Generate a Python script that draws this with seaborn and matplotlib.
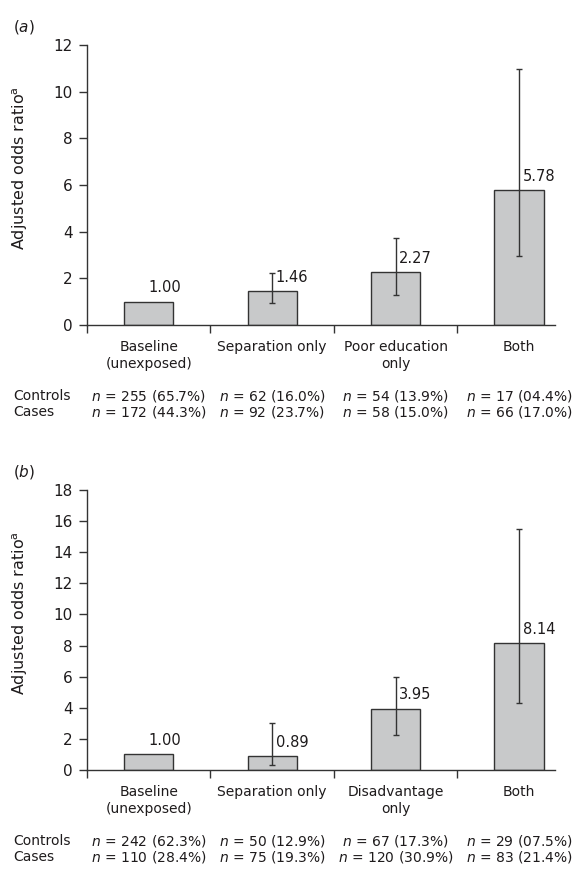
import matplotlib
matplotlib.use("Agg")
import matplotlib.pyplot as plt
import matplotlib.transforms as mtransforms
import seaborn as sns
import pandas as pd

# ------------------------
# Data
# ------------------------

cats_a = ["Baseline\n(unexposed)", "Separation only", "Poor education\nonly", "Both"]
or_a = [1.00, 1.46, 2.27, 5.78]
lo_a = [1.00, 0.95, 1.30, 2.97]
hi_a = [1.00, 2.24, 3.74, 10.97]
ctrl_n_a = [255, 62, 54, 17]
ctrl_pct_a = ["65.7", "16.0", "13.9", "04.4"]
case_n_a = [172, 92, 58, 66]
case_pct_a = ["44.3", "23.7", "15.0", "17.0"]

cats_b = ["Baseline\n(unexposed)", "Separation only", "Disadvantage\nonly", "Both"]
or_b = [1.00, 0.89, 3.95, 8.14]
lo_b = [1.00, 0.32, 2.25, 4.30]
hi_b = [1.00, 3.02, 5.98, 15.50]
ctrl_n_b = [242, 50, 67, 29]
ctrl_pct_b = ["62.3", "12.9", "17.3", "07.5"]
case_n_b = [110, 75, 120, 83]
case_pct_b = ["28.4", "19.3", "30.9", "21.4"]

TXT = "#1e1b1c"
LINE = "#333333"
FILL = "#c8c9ca"

sns.set_style("ticks")
plt.rcParams['font.family'] = ['DejaVu Sans']
plt.rcParams['mathtext.fontset'] = 'dejavusans'
plt.rcParams['text.color'] = TXT


def draw_panel(ax, letter, cats, vals, lo, hi, ymax, ctrl_n, ctrl_pct, case_n, case_pct):
    df = pd.DataFrame({'cat': cats, 'val': vals})
    sns.barplot(data=df, x='cat', y='val', order=cats, color=FILL, edgecolor=LINE,
                linewidth=1.0, width=0.4, saturation=1, ax=ax, errorbar=None)

    # confidence intervals
    for i, (v, l, h) in enumerate(zip(vals, lo, hi)):
        if h > l:
            ax.errorbar(i, v, yerr=[[v - l], [h - v]], fmt='none', ecolor=LINE,
                        elinewidth=1.0, capsize=2.5, capthick=1.0)

    # value labels
    for i, (v, l, h) in enumerate(zip(vals, lo, hi)):
        dx = 2.5 if h > l else -0.5
        ax.annotate(f"{v:.2f}", (i, v), xytext=(dx, 4.5), textcoords='offset points',
                    ha='left', va='bottom', fontsize=10.5, color=TXT)

    ax.set_xlim(-0.5, 3.29)
    ax.set_ylim(0, ymax)
    ax.set_yticks(range(0, ymax + 1, 2))
    ax.set_xticks(range(len(cats)))
    ax.set_xticklabels(cats, fontsize=10, linespacing=1.25, color=TXT)
    ax.set_xticks([-0.5, 0.5, 1.5, 2.5], minor=True)
    ax.tick_params(axis='x', which='major', length=0, pad=11)
    ax.tick_params(axis='x', which='minor', length=5.5, width=1.0, color=LINE, direction='out')
    ax.tick_params(axis='y', length=5.5, width=1.0, color=LINE, direction='out',
                   labelsize=11, pad=5, labelcolor=TXT)
    for s in ['top', 'right']:
        ax.spines[s].set_visible(False)
    for s in ['left', 'bottom']:
        ax.spines[s].set_color(LINE)
        ax.spines[s].set_linewidth(1.0)

    ax.set_xlabel('')
    ax.set_ylabel('Adjusted odds ratio$^{\\mathrm{a}}$', fontsize=11.5, color=TXT)
    ax.yaxis.set_label_coords(-0.122, 0.56)

    # panel letter
    ax.text(-0.158, 1.047, f"(${letter}$)", transform=ax.transAxes, fontsize=11,
            ha='left', va='baseline', color=TXT)

    # counts table under the axis
    trans = mtransforms.blended_transform_factory(ax.transData, ax.transAxes)
    ax.text(-0.158, -0.268, "Controls", transform=ax.transAxes, fontsize=10,
            ha='left', va='baseline', color=TXT)
    ax.text(-0.158, -0.326, "Cases", transform=ax.transAxes, fontsize=10,
            ha='left', va='baseline', color=TXT)
    for i in range(len(cats)):
        ax.text(i, -0.268, f"$n$ = {ctrl_n[i]} ({ctrl_pct[i]}%)", transform=trans,
                fontsize=10, ha='center', va='baseline', color=TXT)
        ax.text(i, -0.326, f"$n$ = {case_n[i]} ({case_pct[i]}%)", transform=trans,
                fontsize=10, ha='center', va='baseline', color=TXT)


fig = plt.figure(figsize=(5.74, 8.71), dpi=100)
ax_a = fig.add_axes([0.1516, 0.6269, 0.8153, 0.3215])
ax_b = fig.add_axes([0.1516, 0.1160, 0.8153, 0.3215])

draw_panel(ax_a, 'a', cats_a, or_a, lo_a, hi_a, 12, ctrl_n_a, ctrl_pct_a, case_n_a, case_pct_a)
draw_panel(ax_b, 'b', cats_b, or_b, lo_b, hi_b, 18, ctrl_n_b, ctrl_pct_b, case_n_b, case_pct_b)

fig.savefig("out.png", dpi=100, facecolor='white')
